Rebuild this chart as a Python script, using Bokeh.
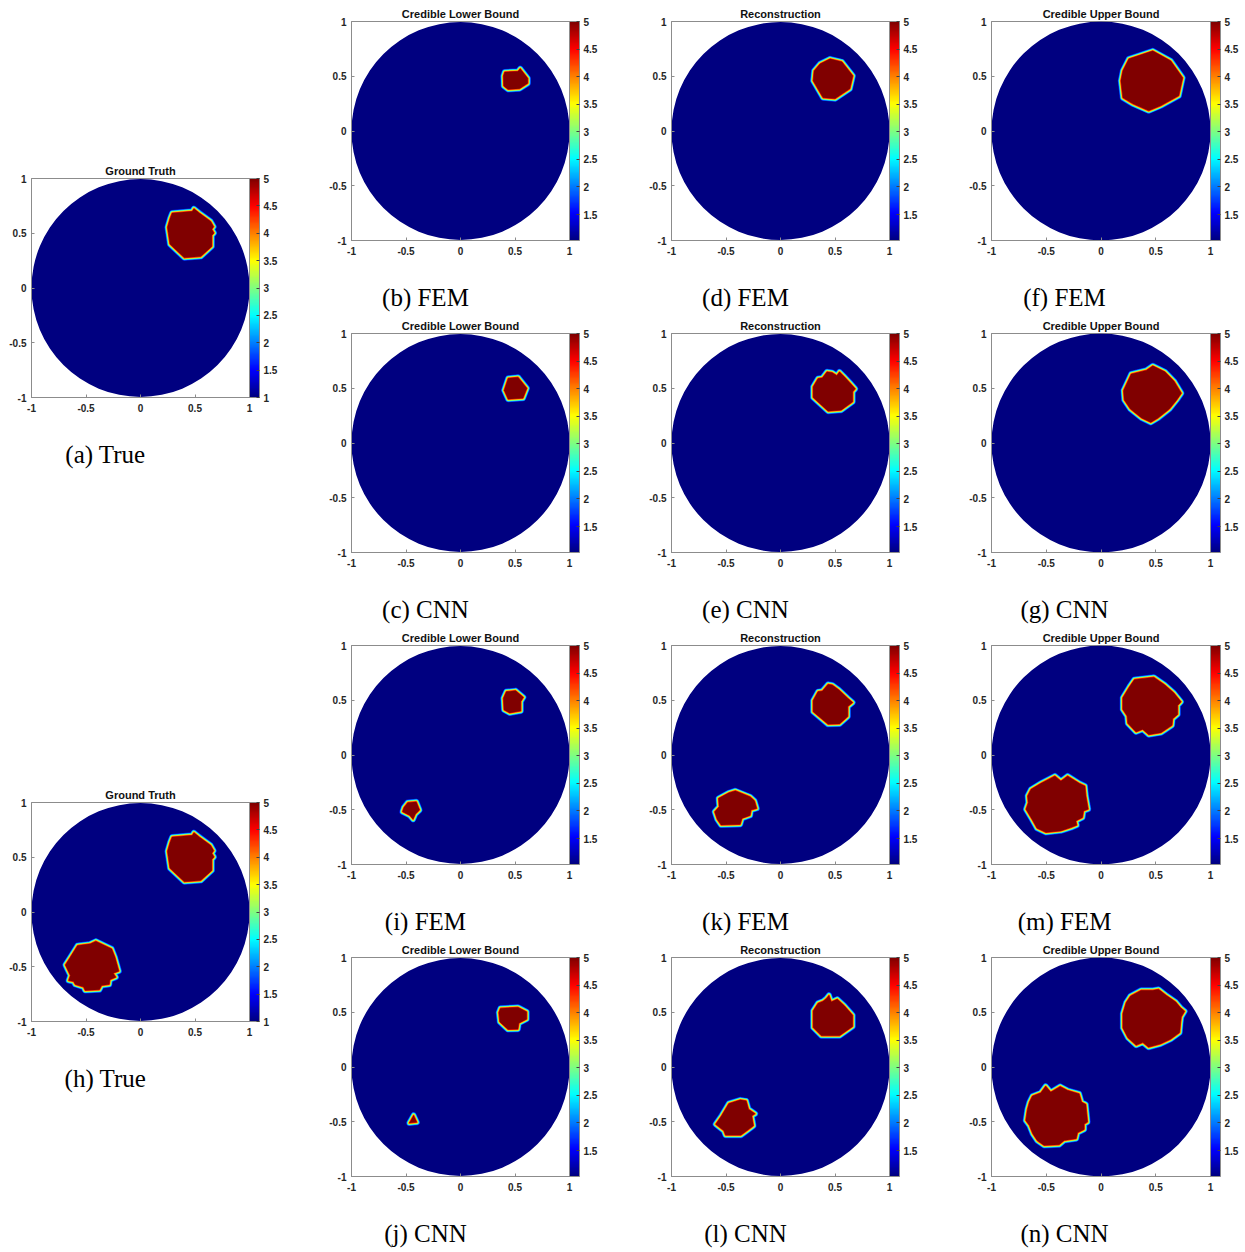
import numpy as np
from bokeh.plotting import figure
from bokeh.models import ColorBar, LinearColorMapper, FixedTicker, Spacer, Range1d
from bokeh.layouts import row, column
from bokeh.core.properties import value
from bokeh.embed import file_html
from bokeh.resources import INLINE

# ---------------------------------------------------------------------------
# Inclusion outlines (conductivity 5 inside, background 1), unit-disc domain
# ---------------------------------------------------------------------------
truth_ne_x = [0.290, 0.475, 0.490, 0.540, 0.643, 0.672, 0.655, 0.675, 0.655, 0.655, 0.553, 0.402, 0.270, 0.247, 0.272]
truth_ne_y = [0.685, 0.700, 0.725, 0.685, 0.610, 0.560, 0.537, 0.503, 0.480, 0.380, 0.287, 0.276, 0.400, 0.555, 0.640]
truth_sw_x = [-0.410, -0.264, -0.234, -0.198, -0.249, -0.225, -0.280, -0.286, -0.356, -0.377, -0.508, -0.523, -0.599, -0.614, -0.660, -0.644, -0.690, -0.644, -0.578, -0.462]
truth_sw_y = [-0.266, -0.336, -0.412, -0.540, -0.559, -0.595, -0.619, -0.662, -0.671, -0.711, -0.717, -0.686, -0.662, -0.635, -0.626, -0.580, -0.483, -0.412, -0.306, -0.291]

# one inclusion
fem_lo_x = [0.405, 0.527, 0.548, 0.618, 0.618, 0.542, 0.436, 0.396, 0.393]
fem_lo_y = [0.539, 0.545, 0.570, 0.481, 0.435, 0.386, 0.380, 0.411, 0.502]
cnn_lo_x = [0.437, 0.528, 0.610, 0.574, 0.437, 0.400]
cnn_lo_y = [0.592, 0.601, 0.500, 0.409, 0.400, 0.482]
fem_rec_x = [0.363, 0.455, 0.564, 0.665, 0.637, 0.500, 0.390, 0.299, 0.308]
fem_rec_y = [0.614, 0.659, 0.632, 0.504, 0.385, 0.294, 0.303, 0.458, 0.550]
cnn_rec_x = [0.344, 0.384, 0.426, 0.474, 0.517, 0.541, 0.587, 0.639, 0.687, 0.663, 0.663, 0.557, 0.436, 0.299, 0.299]
cnn_rec_y = [0.589, 0.595, 0.650, 0.644, 0.616, 0.650, 0.604, 0.549, 0.495, 0.467, 0.376, 0.300, 0.291, 0.416, 0.513]
fem_up_x = [0.254, 0.473, 0.637, 0.747, 0.711, 0.546, 0.436, 0.290, 0.199, 0.181, 0.199]
fem_up_y = [0.659, 0.732, 0.641, 0.486, 0.321, 0.230, 0.184, 0.248, 0.303, 0.458, 0.550]
cnn_up_x = [0.205, 0.275, 0.415, 0.473, 0.585, 0.668, 0.735, 0.692, 0.625, 0.522, 0.455, 0.370, 0.268, 0.212]
cnn_up_y = [0.480, 0.630, 0.665, 0.705, 0.650, 0.565, 0.455, 0.393, 0.310, 0.228, 0.188, 0.228, 0.310, 0.393]

# two inclusions
fem_lo2_ne_x = [0.420, 0.505, 0.578, 0.554, 0.554, 0.451, 0.399, 0.393]
fem_lo2_ne_y = [0.579, 0.588, 0.527, 0.488, 0.402, 0.384, 0.412, 0.518]
fem_lo2_sw_x = [-0.484, -0.405, -0.375, -0.414, -0.435, -0.466, -0.533, -0.520]
fem_lo2_sw_y = [-0.433, -0.427, -0.503, -0.540, -0.588, -0.552, -0.518, -0.479]
cnn_lo2_ne_x = [0.366, 0.527, 0.608, 0.608, 0.536, 0.527, 0.436, 0.360, 0.351]
cnn_lo2_ne_y = [0.537, 0.546, 0.504, 0.437, 0.400, 0.345, 0.342, 0.412, 0.498]
cnn_lo2_sw_x = [-0.430, -0.400, -0.470]
cnn_lo2_sw_y = [-0.440, -0.505, -0.512]
fem_rec2_ne_x = [0.344, 0.384, 0.436, 0.475, 0.536, 0.618, 0.663, 0.618, 0.618, 0.542, 0.436, 0.299, 0.299]
fem_rec2_ne_y = [0.579, 0.585, 0.646, 0.640, 0.595, 0.518, 0.479, 0.442, 0.351, 0.284, 0.280, 0.396, 0.497]
fem_rec2_sw_x = [-0.414, -0.278, -0.238, -0.217, -0.269, -0.278, -0.353, -0.369, -0.545, -0.581, -0.605, -0.563, -0.569, -0.475]
fem_rec2_sw_y = [-0.326, -0.381, -0.418, -0.488, -0.503, -0.552, -0.579, -0.634, -0.640, -0.588, -0.518, -0.473, -0.396, -0.345]
cnn_rec2_ne_x = [0.344, 0.390, 0.420, 0.445, 0.466, 0.521, 0.587, 0.663, 0.663, 0.542, 0.375, 0.299, 0.299]
cnn_rec2_ne_y = [0.583, 0.601, 0.625, 0.656, 0.595, 0.620, 0.559, 0.473, 0.370, 0.285, 0.285, 0.361, 0.513]
cnn_rec2_sw_x = [-0.369, -0.314, -0.293, -0.232, -0.263, -0.247, -0.308, -0.363, -0.505, -0.520, -0.596, -0.542, -0.475]
cnn_rec2_sw_y = [-0.300, -0.309, -0.385, -0.427, -0.446, -0.537, -0.583, -0.623, -0.623, -0.583, -0.523, -0.446, -0.333]
fem_up2_ne_x = [0.305, 0.482, 0.579, 0.665, 0.732, 0.701, 0.701, 0.655, 0.649, 0.549, 0.436, 0.381, 0.320, 0.244, 0.238, 0.198, 0.198, 0.259]
fem_up2_ne_y = [0.690, 0.711, 0.644, 0.568, 0.486, 0.453, 0.371, 0.331, 0.271, 0.204, 0.185, 0.234, 0.210, 0.289, 0.356, 0.416, 0.523, 0.623]
fem_up2_sw_x = [-0.549, -0.421, -0.366, -0.305, -0.198, -0.146, -0.137, -0.116, -0.159, -0.168, -0.229, -0.220, -0.274, -0.366, -0.503, -0.585, -0.631, -0.686, -0.665, -0.671, -0.640]
fem_up2_sw_y = [-0.258, -0.191, -0.237, -0.191, -0.258, -0.283, -0.374, -0.495, -0.511, -0.571, -0.602, -0.641, -0.663, -0.693, -0.708, -0.669, -0.587, -0.495, -0.435, -0.374, -0.313]
cnn_up2_ne_x = [0.269, 0.367, 0.474, 0.526, 0.596, 0.682, 0.728, 0.765, 0.734, 0.728, 0.719, 0.636, 0.544, 0.434, 0.382, 0.321, 0.245, 0.199, 0.199, 0.229]
cnn_up2_ne_y = [0.649, 0.701, 0.701, 0.710, 0.655, 0.595, 0.540, 0.509, 0.457, 0.412, 0.314, 0.253, 0.210, 0.180, 0.223, 0.198, 0.268, 0.357, 0.488, 0.588]
cnn_up2_sw_x = [-0.627, -0.550, -0.505, -0.459, -0.373, -0.306, -0.199, -0.177, -0.138, -0.122, -0.153, -0.153, -0.214, -0.226, -0.336, -0.382, -0.520, -0.581, -0.624, -0.654, -0.688, -0.673, -0.654]
cnn_up2_sw_y = [-0.265, -0.235, -0.174, -0.229, -0.177, -0.213, -0.244, -0.320, -0.341, -0.503, -0.521, -0.570, -0.601, -0.655, -0.671, -0.710, -0.716, -0.674, -0.610, -0.534, -0.488, -0.387, -0.320]

# axis / colour-bar ticks and panel texts
AXIS_TICKS = [-1, -0.5, 0, 0.5, 1]
AXIS_LABELS = ["-1", "-0.5", "0", "0.5", "1"]
CB_TICKS = [1, 1.5, 2, 2.5, 3, 3.5, 4, 4.5, 5]
CB_LABELS = ["1", "1.5", "2", "2.5", "3", "3.5", "4", "4.5", "5"]
SIGMA_BG = 1.0
SIGMA_INC = 5.0
CB_LOW_EST = 1.03
TITLES = ["Ground Truth", "Credible Lower Bound", "Reconstruction", "Credible Upper Bound"]

# ---------------------------------------------------------------------------
# geometry / style
# ---------------------------------------------------------------------------
FRAME = 219
BORDER_L = 31
BORDER_T = 21
BORDER_B = 30
FIG_W = 280
FIG_W_LAST = 285
CAP_H = 42
FIG_H = BORDER_T + FRAME + BORDER_B
GAP = 40
CAP_CX = BORDER_L + 64      # caption centre, px from the left of a panel
CAP_CY = 15                 # caption centre, px from the bottom of its strip
DOMAIN_R = 1.0
LINE_GREY = "#8c8c8c"
TEXT_DARK = "#262626"


def jet_hex(v):
    r = np.clip(1.5 - abs(4 * v - 3), 0, 1)
    g = np.clip(1.5 - abs(4 * v - 2), 0, 1)
    b = np.clip(1.5 - abs(4 * v - 1), 0, 1)
    return "#%02x%02x%02x" % (int(round(r * 255)), int(round(g * 255)), int(round(b * 255)))


JET = [jet_hex(i / 255) for i in range(256)]
# smooth interpolated edge of each inclusion: (stroke width, colormap position)
RIM = [(6.0, 0.16), (5.0, 0.30), (4.0, 0.42), (3.0, 0.58), (2.0, 0.72), (1.0, 0.86)]


def panel(title, blobs, cb_low, width=FIG_W):
    p = figure(width=width, height=FIG_H, x_range=Range1d(-1, 1), y_range=Range1d(-1, 1),
               output_backend="svg", toolbar_location=None,
               min_border_left=BORDER_L, min_border_right=width - BORDER_L - FRAME,
               min_border_top=BORDER_T, min_border_bottom=BORDER_B)
    p.background_fill_color = "white"
    p.border_fill_color = "white"
    p.outline_line_color = LINE_GREY
    p.grid.visible = False

    p.title.text = title
    p.title.align = "center"
    p.title.text_font = "Liberation Sans"
    p.title.text_font_size = "11px"
    p.title.text_font_style = "bold"
    p.title.text_color = "#111111"
    p.title.standoff = 3

    for ax in (p.xaxis[0], p.yaxis[0]):
        ax.ticker = FixedTicker(ticks=AXIS_TICKS)
        ax.major_label_overrides = dict(zip(AXIS_TICKS, AXIS_LABELS))
        ax.major_label_text_font = "Liberation Sans"
        ax.major_label_text_font_size = "10px"
        ax.major_label_text_font_style = "bold"
        ax.major_label_text_color = TEXT_DARK
        ax.axis_line_color = LINE_GREY
        ax.major_tick_line_color = LINE_GREY
        ax.major_tick_in = 3
        ax.major_tick_out = 0
        ax.minor_tick_line_color = None
    p.xaxis.major_label_standoff = 6
    p.yaxis.major_label_standoff = 5

    mapper = LinearColorMapper(palette=JET, low=cb_low, high=SIGMA_INC)

    # background conductivity on the disc
    p.circle(x=[0], y=[0], radius=DOMAIN_R, fill_color=JET[0], line_color=None)

    xs = [b[0] for b in blobs]
    ys = [b[1] for b in blobs]
    for w, v in RIM:
        p.patches(xs=xs, ys=ys, fill_color=None, line_color=jet_hex(v),
                  line_width=w, line_join="round")
    p.patches(xs=xs, ys=ys, fill_color=JET[-1], line_color=None)

    cb = ColorBar(color_mapper=mapper, width=10, padding=0, margin=0, label_standoff=4,
                  ticker=FixedTicker(ticks=CB_TICKS),
                  major_label_overrides=dict(zip(CB_TICKS, CB_LABELS)),
                  major_label_text_font="Liberation Sans", major_label_text_font_size="10px",
                  major_label_text_font_style="bold", major_label_text_color=TEXT_DARK,
                  major_tick_in=3, major_tick_line_color="#404040",
                  minor_tick_line_color=None,
                  bar_line_color=LINE_GREY, border_line_color=None,
                  background_fill_color=None)
    p.add_layout(cb, "right")
    return p


def caption(text, width=FIG_W):
    c = figure(width=width, height=CAP_H, x_range=Range1d(0, width), y_range=Range1d(0, CAP_H),
               output_backend="svg", toolbar_location=None,
               x_axis_location=None, y_axis_location=None, min_border=0)
    c.grid.visible = False
    c.outline_line_color = None
    c.text(x=[CAP_CX], y=[CAP_CY], text=[text], text_font=value("Liberation Serif"),
           text_font_size=value("25px"), text_align="center", text_baseline="middle",
           text_color="#000000")
    return c


def cell(title, label, blobs, cb_low, width=FIG_W):
    return column(panel(title, blobs, cb_low, width), caption(label, width))


cell_a = cell(TITLES[0], "(a) True", [(truth_ne_x, truth_ne_y)], SIGMA_BG)
cell_h = cell(TITLES[0], "(h) True", [(truth_ne_x, truth_ne_y), (truth_sw_x, truth_sw_y)], SIGMA_BG)

cell_b = cell(TITLES[1], "(b) FEM", [(fem_lo_x, fem_lo_y)], CB_LOW_EST)
cell_c = cell(TITLES[1], "(c) CNN", [(cnn_lo_x, cnn_lo_y)], CB_LOW_EST)
cell_i = cell(TITLES[1], "(i) FEM", [(fem_lo2_ne_x, fem_lo2_ne_y), (fem_lo2_sw_x, fem_lo2_sw_y)], CB_LOW_EST)
cell_j = cell(TITLES[1], "(j) CNN", [(cnn_lo2_ne_x, cnn_lo2_ne_y), (cnn_lo2_sw_x, cnn_lo2_sw_y)], CB_LOW_EST)

cell_d = cell(TITLES[2], "(d) FEM", [(fem_rec_x, fem_rec_y)], CB_LOW_EST)
cell_e = cell(TITLES[2], "(e) CNN", [(cnn_rec_x, cnn_rec_y)], CB_LOW_EST)
cell_k = cell(TITLES[2], "(k) FEM", [(fem_rec2_ne_x, fem_rec2_ne_y), (fem_rec2_sw_x, fem_rec2_sw_y)], CB_LOW_EST)
cell_l = cell(TITLES[2], "(l) CNN", [(cnn_rec2_ne_x, cnn_rec2_ne_y), (cnn_rec2_sw_x, cnn_rec2_sw_y)], CB_LOW_EST)

cell_f = cell(TITLES[3], "(f) FEM", [(fem_up_x, fem_up_y)], CB_LOW_EST, FIG_W_LAST)
cell_g = cell(TITLES[3], "(g) CNN", [(cnn_up_x, cnn_up_y)], CB_LOW_EST, FIG_W_LAST)
cell_m = cell(TITLES[3], "(m) FEM", [(fem_up2_ne_x, fem_up2_ne_y), (fem_up2_sw_x, fem_up2_sw_y)], CB_LOW_EST, FIG_W_LAST)
cell_n = cell(TITLES[3], "(n) CNN", [(cnn_up2_ne_x, cnn_up2_ne_y), (cnn_up2_sw_x, cnn_up2_sw_y)], CB_LOW_EST, FIG_W_LAST)

CELL_H = FIG_H + CAP_H
col1 = column(Spacer(width=FIG_W, height=157), cell_a, Spacer(width=FIG_W, height=CELL_H), cell_h)
col2 = column(cell_b, cell_c, cell_i, cell_j)
col3 = column(cell_d, cell_e, cell_k, cell_l)
col4 = column(cell_f, cell_g, cell_m, cell_n)

layout = row(col1, Spacer(width=GAP, height=10), col2, Spacer(width=GAP, height=10),
             col3, Spacer(width=GAP, height=10), col4)

open("out.html", "w").write(file_html(layout, INLINE))
